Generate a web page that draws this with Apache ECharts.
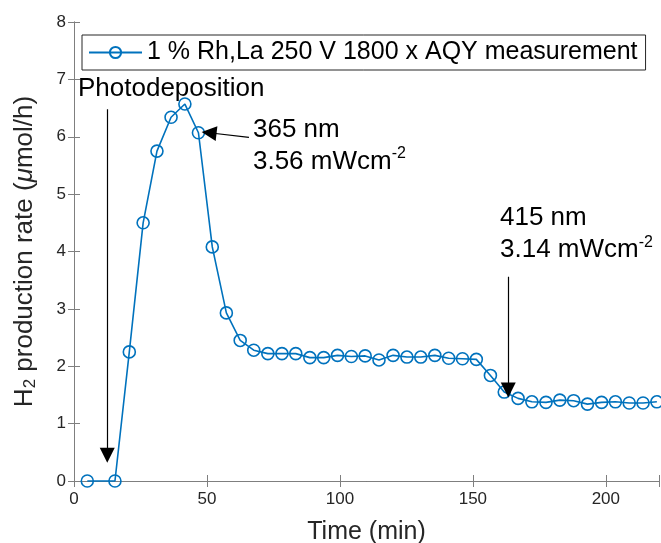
<!DOCTYPE html>
<html>
<head>
<meta charset="utf-8">
<script src="https://cdn.jsdelivr.net/npm/echarts@6/dist/echarts.min.js"></script>
<style>
  html, body { margin: 0; padding: 0; background: #fff; }
  #chart { width: 661px; height: 543px; }
</style>
</head>
<body>
<div id="chart"></div>
<script>
// Measurement times (min) and H2 production rates (µmol/h)
const times = [5, 15.4, 20.8, 26, 31.2, 36.5, 41.7, 46.8, 52, 57.3, 62.5, 67.6, 72.9, 78.2, 83.4,
  88.7, 93.9, 99.1, 104.3, 109.5, 114.7, 120, 125.2, 130.4, 135.7, 140.9, 146.1, 151.3, 156.6,
  161.8, 167, 172.2, 177.5, 182.7, 187.9, 193.1, 198.4, 203.6, 208.8, 214, 219.2];
const rates = [0, 0, 2.25, 4.50, 5.75, 6.34, 6.57, 6.07, 4.08, 2.93, 2.45, 2.28, 2.22, 2.22, 2.22,
  2.15, 2.15, 2.19, 2.17, 2.18, 2.11, 2.19, 2.16, 2.16, 2.19, 2.14, 2.13, 2.12, 1.84,
  1.55, 1.44, 1.38, 1.37, 1.41, 1.40, 1.34, 1.37, 1.38, 1.36, 1.36, 1.38];

const xTicks = [0, 50, 100, 150, 200];
const yTicks = [0, 1, 2, 3, 4, 5, 6, 7, 8];

const seriesName = '1 % Rh,La 250 V 1800 x AQY measurement';

// Annotation arrows: [tail, head] in data units
const arrows = [
  [[12.5, 6.48], [12.5, 0.45]],
  [[65.8, 5.99], [50.8, 6.07]],
  [[163.3, 3.56], [163.3, 1.585]]
];
// Annotation texts anchored at their left/middle point in data units
const notes = [
  { at: [1.5, 6.83], text: '{t|Photodeposition}' },
  { at: [67.3, 5.84], text: '{t|365 nm}\n{t|3.56 mWcm}{sup|-2}' },
  { at: [160.2, 4.30], text: '{t|415 nm}\n{t|3.14 mWcm}{sup|-2}' }
];

const FONT = "'Liberation Sans', Arial, Helvetica, sans-serif";
const BLUE = '#0072BD';
const AXIS = '#7f7f7f';
const TXT = '#262626';

const chart = echarts.init(document.getElementById('chart'), null, { renderer: 'canvas' });

const pairs = times.map((t, i) => [t, rates[i]]);

const richText = {
  t: { fontSize: 26, fontFamily: FONT, color: '#000', lineHeight: 32 },
  sup: { fontSize: 16, fontFamily: FONT, color: '#000', verticalAlign: 'top', lineHeight: 32, padding: [0, 0, 12, 0] }
};

const baseAxis = {
  axisLine: { show: true, lineStyle: { color: AXIS, width: 1 } },
  axisTick: { show: true, inside: true, length: 6, lineStyle: { color: AXIS, width: 1 } },
  splitLine: { show: false }
};

chart.setOption({
  animation: false,
  textStyle: { fontFamily: FONT },
  grid: { left: 74, right: 2, top: 22, bottom: 62, containLabel: false, outerBoundsMode: 'none' },
  legend: {
    data: [seriesName],
    left: 82, top: 35,
    padding: [5, 8, 5, 6],
    borderColor: '#262626', borderWidth: 1,
    itemWidth: 53, itemHeight: 14, itemGap: 5,
    textStyle: { fontSize: 25, color: '#000', fontFamily: FONT }
  },
  xAxis: [
    Object.assign({}, baseAxis, {
      type: 'value', min: 0, max: 220, interval: 50, position: 'bottom',
      axisLine: { show: true, lineStyle: { color: '#404040', width: 1 } },
      axisLabel: { fontSize: 17, color: TXT, margin: 10, fontFamily: FONT,
        formatter: v => xTicks.includes(v) ? String(v) : '' },
      name: 'Time (min)', nameLocation: 'middle', nameGap: 39,
      nameTextStyle: { fontSize: 25, color: TXT, fontFamily: FONT }
    }),
    Object.assign({}, baseAxis, {
      type: 'value', min: 0, max: 220, interval: 50, position: 'top',
      axisLabel: { show: false }
    })
  ],
  yAxis: [
    Object.assign({}, baseAxis, {
      type: 'value', min: 0, max: 8, interval: 1, position: 'left',
      axisLabel: { fontSize: 17, color: TXT, margin: 8, fontFamily: FONT,
        formatter: v => yTicks.includes(v) ? String(v) : '' },
      name: '{a|H}{sub|2}{a| production rate (}{mu|μ}{a|mol/h)}',
      nameLocation: 'middle', nameGap: 35, nameRotate: 90,
      nameTextStyle: {
        rich: {
          a: { fontSize: 26, color: TXT, fontFamily: FONT },
          mu: { fontSize: 26, color: TXT, fontFamily: FONT, fontStyle: 'italic' },
          sub: { fontSize: 17, color: TXT, fontFamily: FONT, padding: [12, 0, 0, 0] }
        }
      }
    }),
    Object.assign({}, baseAxis, {
      type: 'value', min: 0, max: 8, interval: 1, position: 'right',
      axisLabel: { show: false }
    })
  ],
  series: [{
    name: seriesName,
    type: 'line',
    data: pairs,
    symbol: 'circle',
    symbolSize: 12,
    clip: false,
    lineStyle: { color: BLUE, width: 1.6 },
    itemStyle: { color: 'rgba(255,255,255,0)', borderColor: BLUE, borderWidth: 1.6 },
    emphasis: { disabled: true },
    markLine: {
      silent: true,
      symbol: ['none', 'triangle'],
      symbolSize: [15, 15],
      label: { show: false },
      lineStyle: { color: '#000', width: 1.2, type: 'solid' },
      itemStyle: { color: '#000' },
      emphasis: { disabled: true },
      data: arrows.map(a => [{ coord: a[0] }, { coord: a[1] }])
    },
    markPoint: {
      silent: true,
      symbol: 'circle',
      symbolSize: 0,
      data: notes.map(n => ({
        coord: n.at,
        label: {
          show: true, position: [0, 0], align: 'left', verticalAlign: 'middle',
          formatter: n.text, rich: richText
        }
      }))
    }
  }]
});
</script>
</body>
</html>
